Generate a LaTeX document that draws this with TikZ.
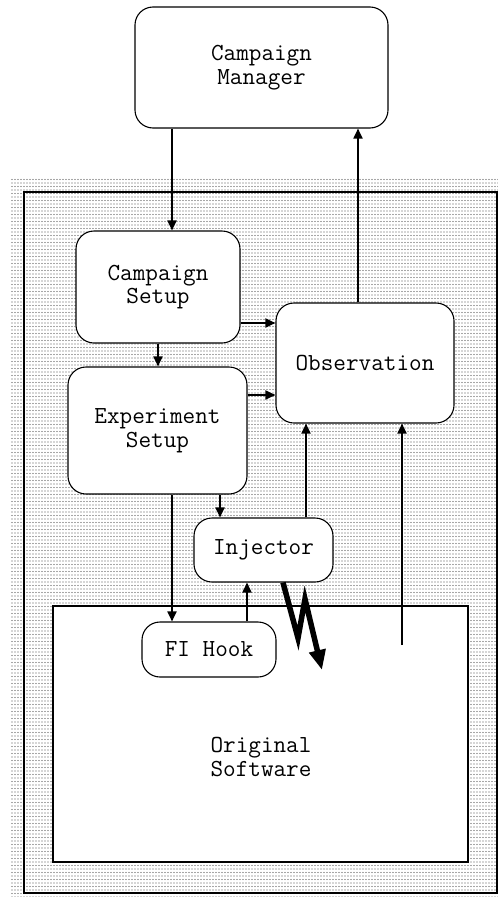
\documentclass[tikz,border=0pt]{standalone}
\usetikzlibrary{arrows.meta,patterns}
\pgfdeclarepatternformonly{mydots}{\pgfqpoint{-1pt}{-1pt}}{\pgfqpoint{1pt}{1pt}}{\pgfqpoint{3pt}{3.5pt}}{%
  \pgfpathcircle{\pgfqpoint{0pt}{0pt}}{0.6pt}\pgfusepath{fill}}
\tikzset{
  blk/.style={draw=black, line width=1.1pt, fill=white, rounded corners=18pt, align=center,
    font=\fontsize{24.5pt}{23.5pt}\selectfont\ttfamily, inner sep=0pt},
  lbl/.style={align=center, font=\fontsize{24.5pt}{23.5pt}\selectfont\ttfamily, inner sep=0pt},
  arr/.style={line width=1.8pt, -{Triangle[length=10pt,width=9pt]}},
  zig/.style={line width=5.5pt, miter limit=20, -{Triangle[length=20pt,width=16pt]}},
}
\begin{document}
\begin{tikzpicture}[x=1pt,y=-1pt]
\useasboundingbox (0,0) rectangle (498,897);
% dotted background region
\fill[pattern=mydots, pattern color=black!70] (10,178) rectangle (498,897);
\draw[line width=1.2pt] (24,192) rectangle (497,893);
% original software
\node[draw=black, line width=1.2pt, fill=white, minimum width=415pt, minimum height=256pt, inner sep=0pt] (os) at (260.5,734) {};
\node[lbl] (oslabel) at (261,757) {Original\\Software};
% blocks
\node[blk, minimum width=253pt, minimum height=121pt] (cm) at (261.5,67.5) {Campaign\\Manager};
\node[blk, minimum width=164pt, minimum height=112pt] (cs) at (158,287) {Campaign\\Setup};
\node[blk, minimum width=179pt, minimum height=127pt] (es) at (157.5,430.5) {Experiment\\Setup};
\node[blk, minimum width=178pt, minimum height=120pt] (obs) at (365,363) {Observation};
\node[blk, minimum width=139pt, minimum height=64pt] (inj) at (263.5,550) {Injector};
\node[blk, minimum width=134pt, minimum height=55pt] (fi) at (209,649.5) {FI Hook};
% helper coordinates
\coordinate (xa) at (172,0);
\coordinate (xb) at (358,0);
\coordinate (xc) at (158,0);
\coordinate (ya) at (0,323);
\coordinate (yb) at (0,395);
\coordinate (xd) at (220,0);
\coordinate (xe) at (247,0);
\coordinate (xf) at (306,0);
\coordinate (xg) at (402,0);
\coordinate (xz) at (283,0);
\coordinate (osout) at (402,645);
\coordinate (z1) at (298,638);
\coordinate (z2) at (305,599);
\coordinate (z3) at (322,670);
% connectors
\draw[arr] (cm.south -| xa) -- (cs.north -| xa);
\draw[arr] (obs.north -| xb) -- (cm.south -| xb);
\draw[arr] (cs.south -| xc) -- (es.north -| xc);
\draw[arr] (cs.east |- ya) -- (obs.west |- ya);
\draw[arr] (es.east |- yb) -- (obs.west |- yb);
\draw[arr] (es.south -| xd) -- (inj.north -| xd);
\draw[arr] (es.south -| xa) -- (fi.north -| xa);
\draw[arr] (fi.north -| xe) -- (inj.south -| xe);
\draw[arr] (inj.north -| xf) -- (obs.south -| xf);
\draw[arr] (osout) -- (obs.south -| xg);
\draw[zig] (inj.south -| xz) -- (z1) -- (z2) -- (z3);
\end{tikzpicture}
\end{document}
